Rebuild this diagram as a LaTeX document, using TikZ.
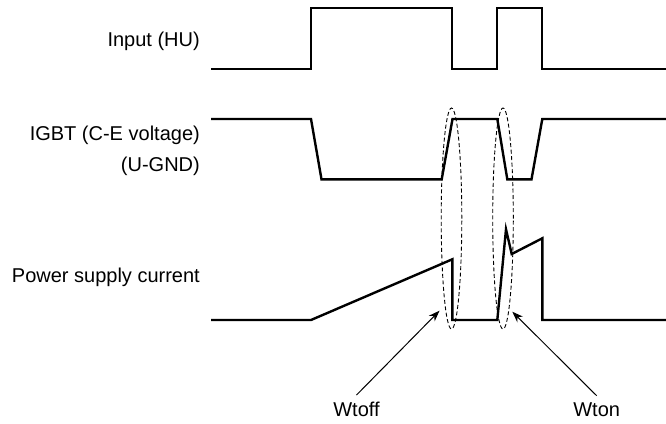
\documentclass[tikz,border=0pt]{standalone}
\usepackage{fontspec}
\setmainfont{Liberation Sans}
\usetikzlibrary{arrows.meta,shapes.geometric}
\begin{document}
\begin{tikzpicture}[x=1pt,y=-1pt,
  wave/.style={line width=2.4pt,line join=miter},
  lbl/.style={font=\fontsize{20}{24}\selectfont,inner sep=0pt,anchor=base east},
  wlbl/.style={font=\fontsize{20}{24}\selectfont,inner sep=0pt,anchor=base},
  ring/.style={draw,ellipse,dash pattern=on 4pt off 2.5pt,line width=0.9pt,minimum width=20.6pt,minimum height=221pt,inner sep=0pt},
  pointer/.style={line width=1pt,-{Stealth[length=11pt,width=8pt]}}]
\useasboundingbox (0,0) rectangle (666,423);
% labels
\node[lbl] (linput) at (200,46.3) {Input (HU)};
\node[lbl] (ligbt) at (200,140.7) {IGBT (C-E voltage)};
\node[lbl] (lugnd) at (200,171.7) {(U-GND)};
\node[lbl] (lpower) at (200,282.5) {Power supply current};
% input
\draw[wave] (211,69) -- (311,69) -- (311,8) -- (452,8) -- (452,69) -- (497,69) -- (497,8) -- (542,8) -- (542,69) -- (666,69);
% IGBT
\draw[wave] (211,119) -- (311,119) -- (321.5,179.3) -- (441.7,179.3) -- (452.5,119) -- (497.3,119) -- (507.3,179.3) -- (531.5,179.3) -- (542.3,119) -- (666,119);
% power supply current
\draw[wave] (211,320) -- (311,320) -- (452.3,259.3) -- (452.3,320) -- (497.3,320) -- (506,229.3) -- (511.7,254) -- (542.3,238.3) -- (542.3,320) -- (666,320);
% ellipses
\node[ring] (eoff) at (451.5,218.5) {};
\node[ring] (eon) at (503,218.5) {};
% pointer labels
\node[wlbl] (wtoff) at (356.5,416.7) {Wtoff};
\node[wlbl] (wton) at (596.7,416.7) {Wton};
\coordinate (toff) at (439.5,310.7);
\coordinate (ton) at (512.3,311.7);
\draw[pointer] ([yshift=7pt]wtoff.north) -- (toff);
\draw[pointer] ([yshift=7pt]wton.north) -- (ton);
\end{tikzpicture}
\end{document}
